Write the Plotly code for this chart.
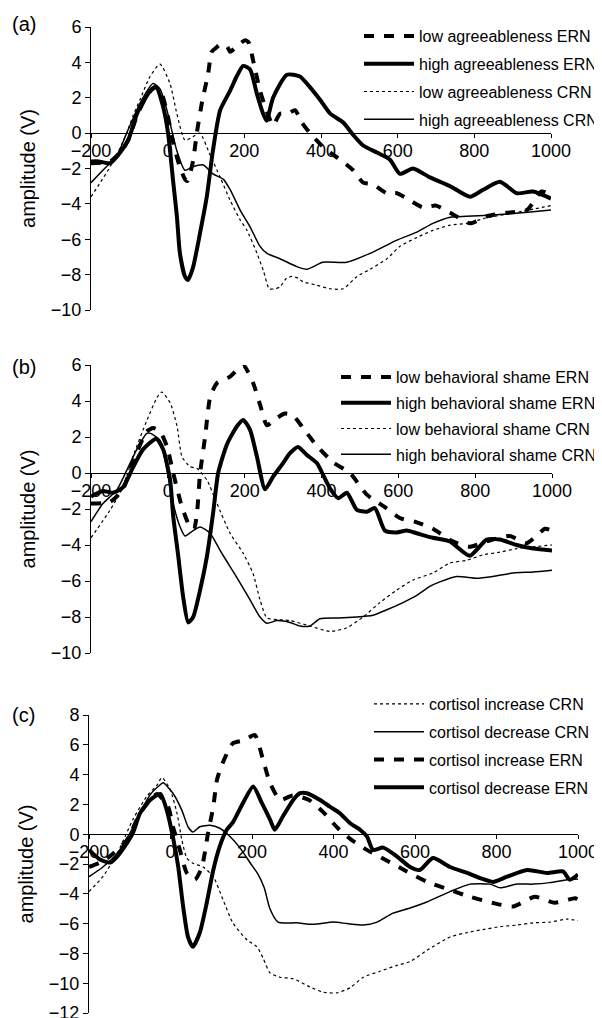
import plotly.graph_objects as go

# ---------------- data (time in ms, amplitude in µV) ----------------
# Panel (a)
A_LO_ERN_T = [-200, -150, -124, -103, -80, -60, -40, -30, -15, 0, 14, 30, 45, 52, 66, 76, 90, 105, 115, 125, 137, 155, 163, 180, 202, 212, 223, 241, 259, 275, 293, 314, 332, 350, 371, 397, 424, 450, 484, 510, 536, 572, 598, 632, 666, 700, 737, 789, 833, 885, 937, 975, 1000]
A_LO_ERN_V = [-1.7, -1.6, -1.1, -0.4, 1.0, 1.9, 2.5, 2.6, 2.2, 1.0, -0.5, -1.8, -2.6, -2.7, -1.6, 0.0, 1.8, 3.3, 4.6, 4.8, 5.0, 4.9, 4.6, 4.9, 5.25, 5.1, 4.1, 2.4, 1.2, 0.45, 1.1, 1.1, 1.3, 0.6, 0.0, -0.6, -1.1, -1.5, -2.1, -2.8, -2.9, -3.4, -3.4, -3.8, -4.2, -4.1, -4.5, -5.1, -4.7, -4.5, -4.35, -3.3, -3.5]
A_HI_ERN_T = [-200, -180, -150, -124, -103, -80, -60, -45, -30, -12, 1, 14, 24, 32, 45, 53, 66, 84, 102, 118, 137, 163, 180, 197, 215, 233, 249, 258, 275, 311, 345, 371, 397, 424, 458, 484, 510, 546, 580, 606, 640, 684, 737, 789, 823, 867, 911, 953, 1000]
A_HI_ERN_V = [-1.6, -1.6, -1.7, -1.1, -0.4, 1.1, 1.9, 2.4, 2.6, 1.5, 0.0, -2.66, -4.7, -6.8, -8.1, -8.3, -7.6, -5.7, -3.6, -1.0, 1.3, 2.4, 3.2, 3.8, 3.6, 2.2, 1.1, 0.7, 2.0, 3.3, 3.2, 2.6, 1.9, 1.1, 0.6, -0.1, -0.7, -1.1, -1.5, -2.3, -2.0, -2.5, -3.0, -3.6, -3.2, -2.75, -3.4, -3.3, -3.7]
A_LO_CRN_T = [-200, -170, -150, -130, -107, -90, -72, -46, -20, 6, 24, 45, 66, 84, 110, 137, 163, 189, 207, 233, 250, 265, 280, 293, 310, 324, 340, 353, 389, 424, 458, 494, 528, 572, 606, 650, 692, 737, 780, 830, 880, 930, 1000]
A_LO_CRN_V = [-3.6, -2.6, -1.9, -1.1, 0.0, 1.0, 1.9, 3.2, 3.9, 2.8, 1.1, -0.4, -0.2, 0.0, -1.2, -2.5, -3.8, -4.9, -5.5, -6.8, -7.8, -8.8, -8.8, -8.7, -8.2, -8.1, -8.2, -8.4, -8.6, -8.8, -8.8, -8.1, -7.7, -7.1, -6.4, -5.9, -5.5, -5.2, -5.1, -4.8, -4.6, -4.4, -4.1]
A_HI_CRN_T = [-200, -169, -133, -107, -72, -38, -20, -2, 24, 45, 66, 93, 118, 145, 163, 189, 215, 241, 259, 293, 337, 363, 405, 467, 528, 598, 650, 692, 737, 780, 867, 953, 1000]
A_HI_CRN_V = [-2.8, -2.1, -1.3, 0.0, 1.7, 2.8, 2.5, 1.3, -1.0, -2.1, -1.9, -1.8, -2.3, -2.6, -3.2, -4.35, -5.3, -6.4, -6.8, -7.1, -7.55, -7.7, -7.3, -7.3, -6.8, -6.05, -5.6, -5.1, -4.75, -4.7, -4.6, -4.45, -4.35]

# Panel (b)
B_LO_ERN_T = [-200, -150, -117, -91, -55, -38, -20, -2, 14, 37, 58, 68, 76, 84, 97, 110, 128, 162, 196, 222, 240, 258, 280, 305, 326, 352, 388, 430, 474, 518, 565, 604, 643, 690, 742, 786, 830, 890, 934, 982, 1000]
B_LO_ERN_V = [-1.7, -1.6, -0.9, 0.6, 2.3, 2.5, 2.3, 1.45, 0.0, -1.9, -3.0, -3.1, -2.2, 0.0, 2.0, 4.2, 5.0, 5.35, 6.0, 5.0, 3.8, 2.65, 3.0, 3.3, 3.2, 2.5, 1.5, 0.6, 0.0, -1.2, -1.9, -2.5, -2.7, -3.1, -3.8, -4.1, -3.8, -3.5, -3.9, -3.1, -3.2]
B_HI_ERN_T = [-200, -169, -143, -117, -91, -65, -30, -12, 6, 14, 27, 40, 53, 66, 84, 102, 118, 131, 154, 180, 196, 214, 232, 253, 274, 300, 318, 339, 362, 388, 404, 422, 444, 466, 492, 518, 539, 565, 596, 622, 648, 690, 734, 786, 830, 864, 908, 951, 1000]
B_HI_ERN_V = [-1.3, -1.0, -1.1, -0.8, 0.3, 1.3, 1.9, 1.3, -0.4, -2.4, -4.6, -6.9, -8.3, -8.0, -6.5, -4.6, -2.2, 0.0, 1.6, 2.6, 2.95, 2.4, 0.9, -0.9, -0.2, 0.55, 1.1, 1.45, 1.0, 0.55, -0.1, -0.85, -1.4, -1.1, -2.05, -2.15, -1.95, -3.2, -3.3, -3.2, -3.35, -3.6, -3.8, -4.6, -3.7, -3.7, -4.0, -4.2, -4.3]
B_LO_CRN_T = [-200, -150, -117, -91, -55, -28, -16, 6, 24, 37, 58, 76, 102, 128, 162, 196, 222, 240, 258, 290, 318, 370, 422, 466, 508, 552, 596, 638, 690, 734, 778, 820, 864, 908, 951, 1000]
B_LO_CRN_V = [-3.6, -2.05, -0.8, 0.9, 2.9, 4.2, 4.5, 3.9, 2.6, 0.9, 0.35, 0.25, -0.4, -1.7, -3.35, -4.45, -5.6, -7.05, -8.05, -8.15, -8.2, -8.5, -8.8, -8.6, -8.0, -7.2, -6.5, -5.95, -5.55, -5.0, -4.85, -4.55, -4.4, -4.2, -4.1, -4.0]
B_HI_CRN_T = [-200, -169, -133, -107, -81, -55, -45, -20, -2, 14, 32, 45, 66, 84, 110, 136, 162, 188, 214, 240, 258, 284, 318, 344, 370, 396, 440, 492, 534, 570, 612, 648, 682, 708, 752, 804, 846, 899, 951, 1000]
B_HI_CRN_V = [-2.7, -1.7, -0.95, 0.15, 1.3, 2.2, 2.2, 1.8, 0.15, -1.7, -3.0, -3.5, -3.2, -3.0, -3.35, -4.3, -5.2, -6.1, -7.05, -8.0, -8.35, -8.2, -8.3, -8.5, -8.5, -8.1, -8.05, -8.0, -7.9, -7.6, -7.2, -6.8, -6.3, -6.05, -5.75, -5.85, -5.75, -5.55, -5.5, -5.4]

# Panel (c)
C_INC_CRN_T = [-200, -166, -131, -92, -58, -33, -21, -1, 16, 28, 40, 55, 80, 105, 129, 153, 188, 212, 227, 244, 269, 301, 342, 374, 408, 441, 473, 514, 556, 588, 629, 686, 728, 767, 809, 850, 890, 931, 973, 1000]
C_INC_CRN_V = [-3.85, -2.85, -1.3, 1.0, 2.55, 3.3, 3.8, 3.0, 1.4, -0.4, -1.6, -1.95, -2.2, -2.85, -4.4, -5.95, -7.1, -7.55, -8.3, -9.3, -9.6, -9.7, -10.25, -10.6, -10.65, -10.3, -9.6, -9.2, -8.8, -8.55, -7.8, -6.9, -6.6, -6.4, -6.2, -6.1, -5.95, -5.9, -5.7, -5.8]
C_DEC_CRN_T = [-200, -166, -131, -99, -75, -50, -26, -18, 6, 28, 43, 55, 72, 97, 121, 146, 170, 195, 215, 230, 244, 264, 310, 350, 399, 433, 473, 507, 546, 588, 629, 686, 735, 784, 809, 850, 890, 931, 973, 1000]
C_DEC_CRN_V = [-2.85, -2.2, -1.3, 0.1, 1.4, 2.65, 3.3, 3.45, 2.75, 1.6, 0.5, 0.15, 0.5, 0.6, 0.4, -0.15, -0.9, -1.9, -2.7, -3.6, -5.0, -5.9, -5.95, -6.05, -5.9, -6.0, -6.1, -5.9, -5.3, -4.95, -4.55, -3.85, -3.35, -3.35, -3.6, -3.35, -3.35, -3.25, -3.05, -3.0]
C_INC_ERN_T = [-200, -173, -150, -107, -75, -50, -33, -6, 6, 23, 40, 60, 77, 92, 105, 114, 126, 153, 180, 207, 227, 244, 269, 300, 340, 374, 411, 445, 482, 526, 580, 630, 681, 735, 789, 841, 894, 943, 993, 1000]
C_INC_ERN_V = [-2.2, -1.9, -1.5, -0.4, 1.4, 2.3, 2.7, 1.85, 0.5, -1.05, -2.6, -3.05, -2.2, 0.05, 1.85, 3.65, 4.65, 6.1, 6.3, 6.65, 5.0, 3.45, 2.3, 2.6, 2.3, 1.5, 0.4, -0.4, -1.05, -1.7, -2.5, -3.2, -3.7, -4.2, -4.6, -4.85, -4.2, -4.6, -4.3, -4.4]
C_DEC_ERN_T = [-200, -173, -148, -131, -107, -92, -75, -50, -25, -9, 6, 19, 31, 43, 55, 72, 89, 105, 121, 138, 153, 178, 203, 224, 244, 256, 276, 301, 318, 335, 367, 391, 416, 440, 465, 482, 497, 522, 556, 588, 612, 644, 686, 728, 760, 792, 826, 875, 924, 963, 980, 1000]
C_DEC_ERN_V = [-1.05, -1.7, -1.9, -1.5, -0.6, 0.1, 1.4, 2.3, 2.7, 1.6, -0.2, -2.2, -4.85, -6.9, -7.55, -6.6, -4.6, -2.4, -0.8, 0.3, 0.8, 2.1, 3.2, 2.1, 1.0, 0.3, 1.2, 2.3, 2.75, 2.75, 2.3, 1.85, 1.4, 0.75, 0.3, -0.15, -1.05, -0.9, -1.5, -2.2, -2.4, -1.6, -2.2, -2.6, -2.95, -3.2, -2.85, -2.4, -2.6, -2.5, -3.05, -2.7]

X_TICKS = [-200, 0, 200, 400, 600, 800, 1000]
Y_TITLE = "amplitude (V)"

# ---------------- styles ----------------
FONT = "Liberation Sans, Arial, Helvetica, sans-serif"
STY = {
    "ern_dash": dict(color="black", width=4, dash="10px,10px"),
    "ern_solid": dict(color="black", width=4),
    "crn_dot": dict(color="black", width=1.2, dash="3px,3px"),
    "crn_solid": dict(color="black", width=1.5),
}

# the page body has an 8px margin, so the figure is sized to end at the window edge
OFF = 8
W, H = 602 - OFF, 1018 - OFF

def fx(px):
    return (px - OFF) / W

def fy(py):
    return 1 - (py - OFF) / H

panels = [
    dict(label="(a)", xpx=(91, 551), ypx=(27, 310), yr=(-10, 6), leg=(359, 19), gap=4, lab_y=24,
         series=[("low agreeableness ERN", A_LO_ERN_T, A_LO_ERN_V, "ern_dash"),
                 ("high agreeableness ERN", A_HI_ERN_T, A_HI_ERN_V, "ern_solid"),
                 ("low agreeableness CRN", A_LO_CRN_T, A_LO_CRN_V, "crn_dot"),
                 ("high agreeableness CRN", A_HI_CRN_T, A_HI_CRN_V, "crn_solid")]),
    dict(label="(b)", xpx=(91, 552), ypx=(365, 653), yr=(-10, 6), leg=(336, 360), gap=2, lab_y=367,
         series=[("low behavioral shame ERN", B_LO_ERN_T, B_LO_ERN_V, "ern_dash"),
                 ("high behavioral shame ERN", B_HI_ERN_T, B_HI_ERN_V, "ern_solid"),
                 ("low behavioral shame CRN", B_LO_CRN_T, B_LO_CRN_V, "crn_dot"),
                 ("high behavioral shame CRN", B_HI_CRN_T, B_HI_CRN_V, "crn_solid")]),
    dict(label="(c)", xpx=(89, 578), ypx=(715, 1013), yr=(-12, 8), leg=(369, 687), gap=4, lab_y=715,
         series=[("cortisol increase CRN", C_INC_CRN_T, C_INC_CRN_V, "crn_dot"),
                 ("cortisol decrease CRN", C_DEC_CRN_T, C_DEC_CRN_V, "crn_solid"),
                 ("cortisol increase ERN", C_INC_ERN_T, C_INC_ERN_V, "ern_dash"),
                 ("cortisol decrease ERN", C_DEC_ERN_T, C_DEC_ERN_V, "ern_solid")]),
]

fig = go.Figure()
layout = dict(width=W, height=H, margin=dict(l=0, r=0, t=0, b=0, autoexpand=False),
              paper_bgcolor="white", plot_bgcolor="white",
              font=dict(family=FONT, size=18, color="black"), annotations=[])

for i, p in enumerate(panels, start=1):
    sfx = "" if i == 1 else str(i)
    xd = [fx(p["xpx"][0]), fx(p["xpx"][1])]
    yd = [fy(p["ypx"][1]), fy(p["ypx"][0])]
    ymin, ymax = p["yr"]
    zero_pos = yd[0] + (0 - ymin) / (ymax - ymin) * (yd[1] - yd[0])
    legname = "legend" + sfx
    for j, (name, t, v, st) in enumerate(p["series"]):
        fig.add_trace(go.Scatter(x=t, y=v, mode="lines", name=name,
                                 line=dict(shape="spline", smoothing=0.6, **STY[st]),
                                 xaxis="x" + sfx, yaxis="y" + sfx,
                                 legend=legname, legendgroup=f"g{i}{j}"))
    layout["xaxis" + sfx] = dict(domain=xd, range=[-200, 1000], anchor="free", position=zero_pos,
                                 tickvals=X_TICKS, ticks="outside", ticklen=4, tickcolor="black",
                                 ticklabelstandoff=-3, ticklabeloverflow="allow",
                                 showline=True, linecolor="black", linewidth=1,
                                 showgrid=False, zeroline=False, automargin=False,
                                 tickfont=dict(size=18, family=FONT))
    layout["yaxis" + sfx] = dict(domain=yd, range=[ymin, ymax], anchor="x" + sfx, dtick=2,
                                 ticks="outside", ticklen=5, tickcolor="black",
                                 ticklabeloverflow="allow",
                                 showline=True, linecolor="black", linewidth=1,
                                 showgrid=False, zeroline=False, automargin=False,
                                 tickfont=dict(size=18, family=FONT),
                                 title=dict(text=Y_TITLE, font=dict(size=20, family=FONT), standoff=9))
    layout[legname] = dict(x=fx(p["leg"][0]), y=fy(p["leg"][1]), xanchor="left", yanchor="top",
                           bgcolor="rgba(0,0,0,0)", borderwidth=0, itemwidth=50,
                           tracegroupgap=p["gap"], font=dict(size=16, family=FONT))
    layout["annotations"].append(dict(text=p["label"], xref="paper", yref="paper",
                                      x=fx(10), y=fy(p["lab_y"]), xanchor="left", yanchor="middle",
                                      showarrow=False, font=dict(size=20, family=FONT)))

fig.update_layout(**layout)
fig.update_layout(showlegend=True)
fig.write_html("out.html")
